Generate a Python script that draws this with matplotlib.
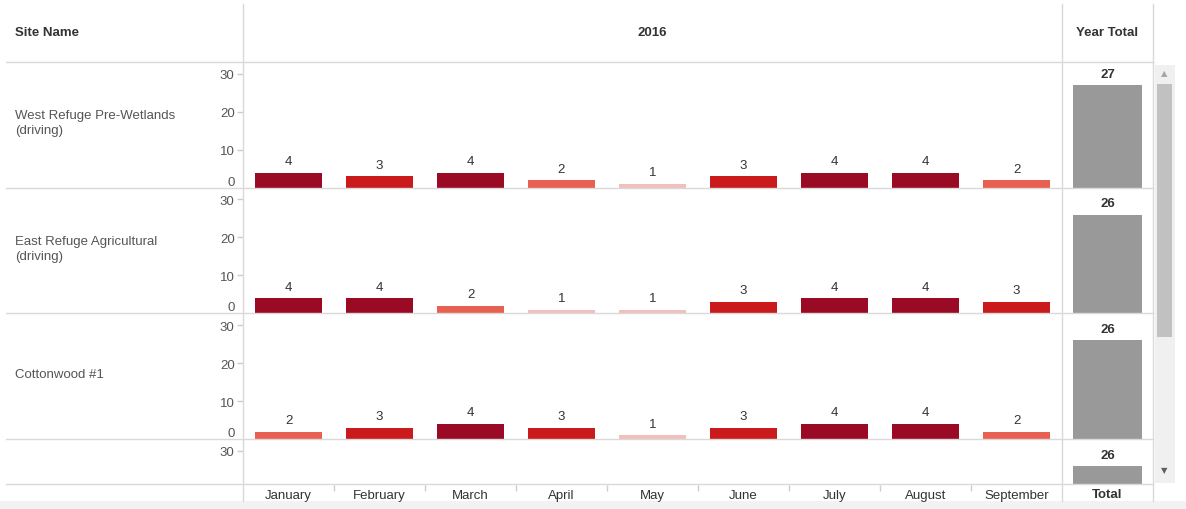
import numpy as np
import matplotlib
matplotlib.use("Agg")
import matplotlib.pyplot as plt
from matplotlib.lines import Line2D
from matplotlib.patches import Rectangle

plt.rcParams["font.family"] = ["Liberation Sans", "DejaVu Sans"]

# ---------------------------------------------------------------------
# dados
# ---------------------------------------------------------------------
meses = ["January", "February", "March", "April", "May",
         "June", "July", "August", "September"]
locais = ["West Refuge Pre-Wetlands\n(driving)",
          "East Refuge Agricultural\n(driving)",
          "Cottonwood #1",
          ""]
west_refuge = [4, 3, 4, 2, 1, 3, 4, 4, 2]
east_refuge = [4, 4, 2, 1, 1, 3, 4, 4, 3]
cottonwood = [2, 3, 4, 3, 1, 3, 4, 4, 2]
quarto_local = None            # linha cortada pela rolagem, meses nao visiveis
totais_ano = [27, 26, 26, 26]
valores = [west_refuge, east_refuge, cottonwood, quarto_local]

CORES = {4: "#9b0a24", 3: "#cb1a1b", 2: "#e8604f", 1: "#f1c0bd"}
CINZA_BARRA = "#999999"
LINHA = "#d9d9d9"
TEXTO = "#333333"
TEXTO_CLARO = "#555555"

W, H = 1186, 510
fig = plt.figure(figsize=(W / 100, H / 100), dpi=100)


def px(x0, y0, w, h):
    """retangulo em pixels (topo-esquerda) -> coordenadas da figura"""
    return [x0 / W, 1 - (y0 + h) / H, w / W, h / H]


def linha(x0, y0, x1, y1, cor=LINHA, z=4):
    fig.add_artist(Line2D([x0 / W, x1 / W], [1 - y0 / H, 1 - y1 / H],
                          color=cor, lw=1, zorder=z))


X0, X1, X2 = 243, 1062, 1153
TOPO = 63
ALT = 125.7
YMAX = 33.1
Y_FIM = 485                    # onde a area rolavel termina

# ---------------------------------------------------------------------
# linhas da tabela (cada local = um par de eixos)
# ---------------------------------------------------------------------
for i, (nome, vals) in enumerate(zip(locais, valores)):
    y0 = TOPO + i * ALT
    alt = min(ALT, Y_FIM - y0)                  # ultima linha fica cortada
    ymin = YMAX - alt * YMAX / ALT

    ax = fig.add_axes(px(X0, y0, X1 - X0, alt))
    ax.set_facecolor("none")
    ax.set_xlim(-0.5, len(meses) - 0.5)
    ax.set_ylim(ymin, YMAX)
    for s in ax.spines.values():
        s.set_visible(False)
    ax.set_xticks([])
    ticks = [t for t in (0, 10, 20, 30) if t >= ymin]
    ax.set_yticks(ticks)
    ax.tick_params(axis="y", length=4, width=1, color="#cccccc",
                   labelcolor=TEXTO_CLARO, labelsize=9.5, pad=2)
    if ticks[0] == 0:
        ax.yaxis.get_major_ticks()[0].tick1line.set_visible(False)
        ax.get_yticklabels()[0].set_va("bottom")

    if vals is not None:
        barras = ax.bar(np.arange(len(meses)), vals, width=0.74,
                        color=[CORES[v] for v in vals])
        ax.bar_label(barras, padding=4, fontsize=9.5, color=TEXTO)

    # coluna do total do ano
    axt = fig.add_axes(px(X1, y0, X2 - X1, alt))
    axt.set_facecolor("none")
    axt.set_xlim(-0.5, 0.5)
    axt.set_ylim(ymin, YMAX)
    axt.axis("off")
    bt = axt.bar([0], [totais_ano[i]], width=0.75, color=CINZA_BARRA)
    axt.bar_label(bt, padding=4, fontsize=9.5, color=TEXTO, fontweight="bold")

    if nome:
        fig.text(15 / W, 1 - (y0 + ALT / 2 - 2) / H, nome, fontsize=9.5,
                 color=TEXTO_CLARO, va="center", ha="left", linespacing=1.3)

# faixa cinza no rodape
fig.add_artist(Rectangle((0, 0), 1, 8 / H, transform=fig.transFigure,
                         facecolor="#f2f2f2", edgecolor="none", zorder=3.5))

# linhas de grade
for y in [TOPO + k * ALT for k in range(4)] + [Y_FIM]:
    linha(6, y, X2, y)
for x in (X0, X1, X2):
    linha(x, 5, x, 502)

# ---------------------------------------------------------------------
# cabecalho e rodape
# ---------------------------------------------------------------------
fig.text(15 / W, 1 - 33.5 / H, "Site Name", fontsize=9.5, fontweight="bold",
         color=TEXTO, va="center", ha="left")
fig.text((X0 + X1) / 2 / W, 1 - 33.5 / H, "2016", fontsize=9.5,
         fontweight="bold", color=TEXTO, va="center", ha="center")
fig.text((X1 + X2) / 2 / W, 1 - 33.5 / H, "Year Total", fontsize=9.5,
         fontweight="bold", color=TEXTO, va="center", ha="center")

axb = fig.add_axes(px(X0, Y_FIM, X1 - X0, 17), zorder=5)
axb.set_facecolor("none")
axb.set_xlim(-0.5, len(meses) - 0.5)
axb.set_ylim(0, 1)
axb.axis("off")
for j, m in enumerate(meses):
    axb.text(j, 0.35, m, ha="center", va="center", fontsize=9.5,
             color=TEXTO)
axb.vlines(np.arange(len(meses) - 1) + 0.5, 0.6, 0.95, color="#cccccc", lw=1)
fig.text((X1 + X2) / 2 / W, 1 - 495 / H, "Total", fontsize=9.5,
         fontweight="bold", color=TEXTO, va="center", ha="center", zorder=5)

# barra de rolagem
fig.add_artist(Rectangle((1155 / W, 1 - 484 / H), 20 / W, 418 / H,
                         transform=fig.transFigure, facecolor="#f0f0f0",
                         edgecolor="none", zorder=4))
fig.add_artist(Rectangle((1157 / W, 1 - 338 / H), 15 / W, 253 / H,
                         transform=fig.transFigure, facecolor="#c1c1c1",
                         edgecolor="none", zorder=4.5))
fig.text(1164.5 / W, 1 - 74 / H, "\u25b2", fontsize=6, color="#a6a6a6",
         ha="center", va="center", zorder=5, family="DejaVu Sans")
fig.text(1164.5 / W, 1 - 471 / H, "\u25bc", fontsize=6, color="#606060",
         ha="center", va="center", zorder=5, family="DejaVu Sans")

fig.savefig("out.png", dpi=100, facecolor="white")
